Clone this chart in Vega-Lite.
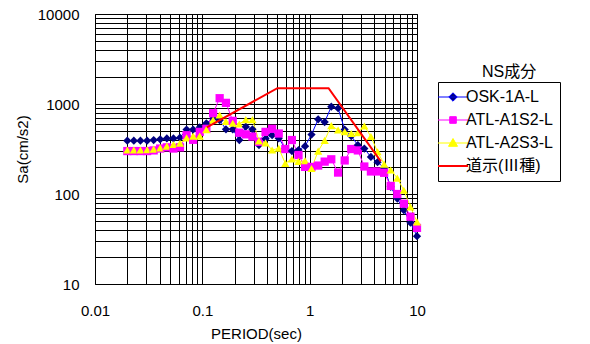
{
  "$schema": "https://vega.github.io/schema/vega-lite/v6.json",
  "width": 322,
  "height": 270,
  "autosize": {"type": "none"},
  "padding": {"left": 95, "top": 14, "right": 173, "bottom": 60},
  "background": "white",
  "config": {
    "view": {"stroke": "#000", "strokeWidth": 1},
    "font": "Liberation Sans",
    "axis": {
      "grid": true, "gridColor": "#000", "gridWidth": 1, "gridOpacity": 1,
      "domain": false, "ticks": false,
      "labelFont": "Liberation Sans", "labelFontSize": 15, "labelColor": "#000",
      "titleFont": "Liberation Sans", "titleFontSize": 15, "titleFontWeight": "normal", "titleColor": "#000",
      "labelFlush": false, "labelOverlap": false
    }
  },
  "title": {
    "text": "NS成分",
    "font": "Liberation Sans, Noto Sans CJK JP",
    "fontSize": 16,
    "fontWeight": "normal",
    "color": "#000",
    "anchor": "start",
    "frame": "group",
    "align": "left",
    "baseline": "alphabetic",
    "offset": 0,
    "dx": 387,
    "dy": 86
  },
  "datasets": {
    "spec": [
      {"T": 0.02, "OSK-1A-L": 391, "ATL-A1S2-L": 300, "ATL-A2S3-L": 308},
      {"T": 0.023, "OSK-1A-L": 391, "ATL-A1S2-L": 300, "ATL-A2S3-L": 308},
      {"T": 0.0265, "OSK-1A-L": 391, "ATL-A1S2-L": 300, "ATL-A2S3-L": 308},
      {"T": 0.0306, "OSK-1A-L": 391, "ATL-A1S2-L": 300, "ATL-A2S3-L": 310},
      {"T": 0.0352, "OSK-1A-L": 398, "ATL-A1S2-L": 305, "ATL-A2S3-L": 315},
      {"T": 0.0405, "OSK-1A-L": 405, "ATL-A1S2-L": 320, "ATL-A2S3-L": 325},
      {"T": 0.0467, "OSK-1A-L": 415, "ATL-A1S2-L": 330, "ATL-A2S3-L": 340},
      {"T": 0.0538, "OSK-1A-L": 415, "ATL-A1S2-L": 320, "ATL-A2S3-L": 355},
      {"T": 0.0619, "OSK-1A-L": 423, "ATL-A1S2-L": 330, "ATL-A2S3-L": 366},
      {"T": 0.0713, "OSK-1A-L": 520, "ATL-A1S2-L": 450, "ATL-A2S3-L": 420},
      {"T": 0.0821, "OSK-1A-L": 520, "ATL-A1S2-L": 400, "ATL-A2S3-L": 440},
      {"T": 0.0946, "OSK-1A-L": 550, "ATL-A1S2-L": 490, "ATL-A2S3-L": 440},
      {"T": 0.109, "OSK-1A-L": 610, "ATL-A1S2-L": 530, "ATL-A2S3-L": 520},
      {"T": 0.126, "OSK-1A-L": 690, "ATL-A1S2-L": 790, "ATL-A2S3-L": 664},
      {"T": 0.145, "OSK-1A-L": 660, "ATL-A1S2-L": 1160, "ATL-A2S3-L": 755},
      {"T": 0.166, "OSK-1A-L": 524, "ATL-A1S2-L": 1030, "ATL-A2S3-L": 639},
      {"T": 0.192, "OSK-1A-L": 524, "ATL-A1S2-L": 650, "ATL-A2S3-L": 611},
      {"T": 0.221, "OSK-1A-L": 398, "ATL-A1S2-L": 480, "ATL-A2S3-L": 600},
      {"T": 0.254, "OSK-1A-L": 560, "ATL-A1S2-L": 460, "ATL-A2S3-L": 670},
      {"T": 0.293, "OSK-1A-L": 524, "ATL-A1S2-L": 435, "ATL-A2S3-L": 670},
      {"T": 0.337, "OSK-1A-L": 350, "ATL-A1S2-L": 380, "ATL-A2S3-L": 390},
      {"T": 0.388, "OSK-1A-L": 410, "ATL-A1S2-L": 490, "ATL-A2S3-L": 370},
      {"T": 0.447, "OSK-1A-L": 450, "ATL-A1S2-L": 530, "ATL-A2S3-L": 308},
      {"T": 0.515, "OSK-1A-L": 416, "ATL-A1S2-L": 470, "ATL-A2S3-L": 322},
      {"T": 0.593, "OSK-1A-L": 320, "ATL-A1S2-L": 316, "ATL-A2S3-L": 219},
      {"T": 0.683, "OSK-1A-L": 300, "ATL-A1S2-L": 398, "ATL-A2S3-L": 245},
      {"T": 0.787, "OSK-1A-L": 308, "ATL-A1S2-L": 271, "ATL-A2S3-L": 230},
      {"T": 0.906, "OSK-1A-L": 340, "ATL-A1S2-L": 200, "ATL-A2S3-L": 234},
      {"T": 1.04, "OSK-1A-L": 457, "ATL-A1S2-L": 200, "ATL-A2S3-L": 192},
      {"T": 1.2, "OSK-1A-L": 676, "ATL-A1S2-L": 207, "ATL-A2S3-L": 300},
      {"T": 1.38, "OSK-1A-L": 630, "ATL-A1S2-L": 229, "ATL-A2S3-L": 395},
      {"T": 1.59, "OSK-1A-L": 934, "ATL-A1S2-L": 243, "ATL-A2S3-L": 575},
      {"T": 1.84, "OSK-1A-L": 897, "ATL-A1S2-L": 173, "ATL-A2S3-L": 514},
      {"T": 2.12, "OSK-1A-L": 520, "ATL-A1S2-L": 236, "ATL-A2S3-L": 492},
      {"T": 2.44, "OSK-1A-L": 440, "ATL-A1S2-L": 316, "ATL-A2S3-L": 470},
      {"T": 2.81, "OSK-1A-L": 350, "ATL-A1S2-L": 305, "ATL-A2S3-L": 480},
      {"T": 3.23, "OSK-1A-L": 320, "ATL-A1S2-L": 202, "ATL-A2S3-L": 570},
      {"T": 3.72, "OSK-1A-L": 258, "ATL-A1S2-L": 178, "ATL-A2S3-L": 435},
      {"T": 4.29, "OSK-1A-L": 226, "ATL-A1S2-L": 178, "ATL-A2S3-L": 295},
      {"T": 4.94, "OSK-1A-L": 195, "ATL-A1S2-L": 172, "ATL-A2S3-L": 215},
      {"T": 5.69, "OSK-1A-L": 120, "ATL-A1S2-L": 123, "ATL-A2S3-L": 185},
      {"T": 6.55, "OSK-1A-L": 89, "ATL-A1S2-L": 100, "ATL-A2S3-L": 150},
      {"T": 7.54, "OSK-1A-L": 66, "ATL-A1S2-L": 78, "ATL-A2S3-L": 110},
      {"T": 8.69, "OSK-1A-L": 48, "ATL-A1S2-L": 56, "ATL-A2S3-L": 72},
      {"T": 10, "OSK-1A-L": 34, "ATL-A1S2-L": 42, "ATL-A2S3-L": 49}
    ],
    "code": [
      {"series": "道示(Ⅲ種)", "T": 0.11, "Sa": 550},
      {"series": "道示(Ⅲ種)", "T": 0.5, "Sa": 1500},
      {"series": "道示(Ⅲ種)", "T": 1.5, "Sa": 1500},
      {"series": "道示(Ⅲ種)", "T": 4.6, "Sa": 230}
    ]
  },
  "encoding": {
    "x": {
      "field": "T", "type": "quantitative",
      "scale": {"type": "log", "domain": [0.01, 10], "nice": false},
      "axis": {
        "title": "PERIOD(sec)",
        "values": [0.01,0.02,0.03,0.04,0.05,0.06,0.07,0.08,0.09,0.1,0.2,0.3,0.4,0.5,0.6,0.7,0.8,0.9,1,2,3,4,5,6,7,8,9,10],
        "format": "~g",
        "labelExpr": "indexof([0.01,0.1,1,10], datum.value) >= 0 ? datum.label : ''",
        "labelPadding": 19,
        "titlePadding": 8
      }
    },
    "y": {
      "field": "Sa", "type": "quantitative",
      "scale": {"type": "log", "domain": [10, 10000], "nice": false},
      "axis": {
        "title": "Sa(cm/s2)",
        "values": [10,20,30,40,50,60,70,80,90,100,200,300,400,500,600,700,800,900,1000,2000,3000,4000,5000,6000,7000,8000,9000,10000],
        "format": "~g",
        "labelExpr": "indexof([10,100,1000,10000], datum.value) >= 0 ? datum.label : ''",
        "labelPadding": 16,
        "titlePadding": 7
      }
    }
  },
  "layer": [
    {
      "data": {"name": "spec"},
      "transform": [{"fold": ["OSK-1A-L", "ATL-A1S2-L", "ATL-A2S3-L"], "as": ["series", "Sa"]}],
      "mark": {"type": "line", "strokeWidth": 1},
      "encoding": {
        "color": {
          "field": "series", "type": "nominal",
          "scale": {
            "domain": ["OSK-1A-L", "ATL-A1S2-L", "ATL-A2S3-L", "道示(Ⅲ種)"],
            "range": ["#0000FF", "#FF00FF", "#FFFF00", "#FF0000"]
          },
          "legend": {
            "title": null,
            "orient": "none",
            "legendX": 343,
            "legendY": 68,
            "strokeColor": "#000",
            "fillColor": "#fff",
            "padding": 7,
            "rowPadding": 7,
            "labelFont": "Liberation Sans, Noto Sans CJK JP",
            "labelFontSize": 16,
            "labelColor": "#000",
            "labelOffset": 5,
            "symbolSize": 900,
            "encode": {
              "symbols": {
                "update": {
                  "shape": {"signal": "datum.value === 'OSK-1A-L' ? 'M-1,0H1M0,-0.28L0.28,0L0,0.28L-0.28,0Z' : datum.value === 'ATL-A1S2-L' ? 'M-1,0H1M-0.22,-0.22H0.22V0.22H-0.22Z' : datum.value === 'ATL-A2S3-L' ? 'M-1,0H1M0,-0.3L0.3,0.22H-0.3Z' : 'M-1,0H1'"},
                  "fill": {"signal": "datum.value === 'OSK-1A-L' ? '#000080' : datum.value === 'ATL-A1S2-L' ? '#FF00FF' : datum.value === 'ATL-A2S3-L' ? '#FFFF00' : 'transparent'"},
                  "stroke": {"signal": "datum.value === 'OSK-1A-L' ? '#0000FF' : datum.value === 'ATL-A1S2-L' ? '#FF00FF' : datum.value === 'ATL-A2S3-L' ? '#FFFF00' : '#FF0000'"},
                  "strokeWidth": {"signal": "datum.value === '道示(Ⅲ種)' ? 2 : 1"},
                  "opacity": {"value": 1},
                  "fillOpacity": {"value": 1}
                }
              }
            }
          }
        }
      }
    },
    {
      "data": {"name": "spec"},
      "transform": [{"fold": ["OSK-1A-L", "ATL-A1S2-L", "ATL-A2S3-L"], "as": ["series", "Sa"]}],
      "mark": {"type": "point", "filled": true, "size": 68, "opacity": 1, "strokeWidth": 0},
      "encoding": {
        "shape": {
          "field": "series", "type": "nominal",
          "scale": {"domain": ["OSK-1A-L", "ATL-A1S2-L", "ATL-A2S3-L"], "range": ["diamond", "square", "triangle-up"]},
          "legend": null
        },
        "fill": {
          "field": "series", "type": "nominal",
          "scale": {"domain": ["OSK-1A-L", "ATL-A1S2-L", "ATL-A2S3-L"], "range": ["#000080", "#FF00FF", "#FFFF00"]},
          "legend": null
        }
      }
    },
    {
      "data": {"name": "code"},
      "mark": {"type": "line", "strokeWidth": 2},
      "encoding": {
        "color": {"field": "series", "type": "nominal"}
      }
    }
  ]
}
